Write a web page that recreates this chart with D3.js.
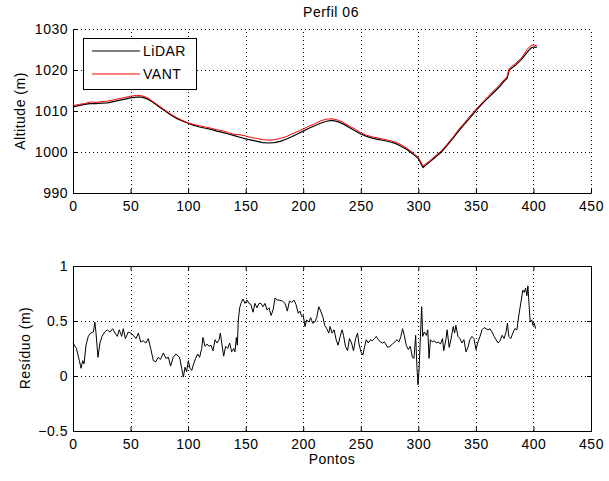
<!DOCTYPE html>
<html>
<head>
<meta charset="utf-8">
<script src="https://cdn.jsdelivr.net/npm/d3@7"></script>
<style>
  body { margin: 0; background: #fff; }
  svg text { font-family: "Liberation Sans", Arial, sans-serif; font-size: 14px; letter-spacing: 0.5px; fill: #000; }
</style>
</head>
<body>
<script>
var w = 609;
var h = 481;

// profile (top plot)
var profX = [0,5,10,15,20,25,30,35,40,45,50,55,60,65,70,75,80,85,90,95,100,105,110,115,120,
             125,130,135,140,145,150,155,160,165,170,175,180,185,190,195,200,205,210,215,220,225,
             230,235,240,245,250,255,260,265,270,275,280,285,290,295,300,304,310,315,320,325,330,
             335,340,345,350,355,360,365,370,375,377,379,385,390,395,398,400,403];
var lidar = [1011.0,1011.3,1011.6,1011.8,1011.8,1011.9,1012.0,1012.3,1012.6,1012.9,1013.2,1013.4,1013.4,
             1012.9,1012.0,1011.0,1010.0,1009.0,1008.2,1007.6,1007.0,1006.5,1006.1,1005.8,1005.5,
             1005.1,1004.8,1004.4,1004.0,1003.6,1003.2,1002.9,1002.6,1002.3,1002.2,1002.3,1002.6,
             1003.1,1003.7,1004.4,1005.1,1005.8,1006.4,1007.0,1007.5,1007.7,1007.4,1006.8,1006.0,
             1005.2,1004.4,1003.8,1003.4,1003.1,1002.8,1002.5,1002.1,1001.4,1000.6,999.6,998.4,
             996.2,997.6,998.8,1000.0,1001.6,1003.3,1005.1,1006.8,1008.4,1010.1,1011.6,1013.0,1014.4,1015.8,1017.4,
             1017.9,1020.0,1021.3,1022.7,1024.5,1025.4,1025.6,1025.5];
var vant = [1011.3,1011.6,1011.8,1012.2,1012.1,1012.3,1012.4,1012.7,1013.0,1013.3,1013.6,1013.8,1013.7,
            1013.2,1012.2,1011.2,1010.2,1009.2,1008.4,1007.7,1007.1,1006.7,1006.4,1006.1,1005.8,
            1005.4,1005.2,1004.7,1004.3,1004.2,1003.9,1003.5,1003.3,1003.0,1002.9,1003.0,1003.3,
            1003.7,1004.4,1005.0,1005.6,1006.3,1006.9,1007.6,1008.0,1008.1,1007.8,1007.2,1006.3,
            1005.6,1004.7,1004.1,1003.7,1003.4,1003.1,1002.8,1002.4,1001.8,1000.9,999.9,998.7,
            996.6,997.9,999.1,1000.3,1001.9,1003.6,1005.5,1007.1,1008.8,1010.4,1011.9,1013.4,1014.8,1016.2,1017.8,
            1018.3,1020.4,1021.7,1023.1,1025.2,1026.0,1026.1,1025.9];

// residual (bottom plot)
var resX = [0,3,5.5,7,8.4,9.6,11.3,13.3,15.3,17.7,19,20,21.7,23.4,25.2,27.5,29.8,32,34.5,36.5,
            38.5,40.2,42.3,43.7,45.5,48,50,52.4,54.7,56.8,58.8,61,63.4,65.4,67.5,69.8,72,74,76,78.5,
            80.8,82.8,84.8,87,89.4,
            92.6,94.4,95.9,97.3,98.7,100.2,101.6,103.1,104.8,106.5,108.3,110,111.8,112.9,114.7,116.4,118.2,119.9,121.6,123.4,
            125.1,126.9,128,129.2,130.9,132.6,134.4,136.1,137.8,139.6,140.7,141.9,142.8,143.6,144.8,145.9,147.7,149.4,151.2,152.9,
            154.6,156.4,158.1,159.8,161.6,163.3,165.1,166.8,168.6,170.3,172.1,173.8,175.5,177.3,179,
            182.1,184.2,186.2,188,190,192,193.7,195.7,197.2,198.6,200.1,201.5,203,204.7,206.5,208.2,210,211.7,213.5,215.2,
            217,218.7,220.4,222.2,223.3,225.1,226.8,228.6,230.3,232.1,233.8,235,236.7,238.5,240.2,242,243.7,245.5,247.2,248.3,
            250.1,251.8,253.6,254.8,256.5,258.3,260,261.8,263.5,265.3,267,268.8,270.5,
            273.3,275.3,277.4,279.7,281.4,283.1,284.9,286.3,287.8,289.5,291.3,293,294.8,296.2,297.7,298.8,299.7,300.6,301.8,302.9,
            303.8,305.2,307,308.2,309.3,310.5,312.2,314,315.7,317.5,319.2,321,322.1,323.9,325,326.8,328.5,330.3,331.5,332.6,
            334.4,336.1,337.9,339.6,341.4,343.1,344.8,346.6,348.3,350.1,351.8,353.6,355.3,357.1,358.8,360.5,362.3,364,365.8,367.5,
            369.3,371,372.8,374.5,376.2,377.4,378.6,380.3,382.1,383.8,385.6,387.3,389.1,390.8,392,393.2,394.3,395.2,396.1,397.2,
            398.4,399.6,400.7,401.9];
var resY = [0.30,0.25,0.14,0.07,0.14,0.11,0.28,0.36,0.39,0.40,0.49,0.39,0.17,0.30,0.36,0.40,0.42,0.40,0.43,0.39,
            0.36,0.42,0.36,0.43,0.34,0.40,0.39,0.37,0.34,0.39,0.31,0.32,0.30,0.34,0.25,0.14,0.13,0.17,0.15,0.21,
            0.16,0.17,0.09,0.17,0.20,
            0.17,0.07,-0.01,0.08,0.04,0.14,0.07,0.05,0.11,0.16,0.20,0.17,0.25,0.35,0.27,0.29,0.27,0.28,0.23,0.33,
            0.30,0.33,0.39,0.30,0.18,0.27,0.25,0.30,0.22,0.25,0.22,0.35,0.28,0.51,0.62,0.66,0.70,0.66,0.69,0.66,
            0.65,0.58,0.66,0.62,0.66,0.66,0.63,0.66,0.60,0.62,0.55,0.60,0.71,0.69,0.69,
            0.68,0.66,0.59,0.68,0.67,0.69,0.65,0.57,0.59,0.54,0.55,0.45,0.51,0.49,0.53,0.48,0.49,0.53,0.63,0.59,
            0.54,0.46,0.43,0.39,0.45,0.39,0.42,0.33,0.28,0.36,0.42,0.37,0.27,0.23,0.34,0.30,0.23,0.34,0.39,0.30,
            0.22,0.19,0.28,0.33,0.30,0.33,0.32,0.34,0.36,0.33,0.31,0.30,0.31,
            0.26,0.27,0.29,0.31,0.33,0.31,0.36,0.43,0.37,0.28,0.24,0.27,0.17,0.16,0.37,0.08,-0.08,0.05,0.36,0.63,
            0.36,0.40,0.37,0.42,0.16,0.33,0.31,0.32,0.30,0.31,0.29,0.34,0.23,0.33,0.42,0.26,0.34,0.45,0.39,0.46,
            0.36,0.34,0.30,0.33,0.22,0.26,0.33,0.36,0.34,0.24,0.31,0.36,0.42,0.44,0.43,0.42,0.43,0.40,0.36,0.33,
            0.30,0.32,0.37,0.34,0.40,0.48,0.36,0.34,0.39,0.43,0.42,0.55,0.67,0.78,0.76,0.80,0.73,0.82,0.66,0.49,
            0.51,0.46,0.48,0.43];

var xTicks = [0,50,100,150,200,250,300,350,400,450];
var topTicks = [990,1000,1010,1020,1030];
var botTicks = [-0.5,0,0.5,1];

var svg = d3.select("body").append("svg")
            .attr("width", w)
            .attr("height", h);

var left = 73, right = 591;

var x = d3.scaleLinear().domain([0, 450]).range([left, right]);
var y1 = d3.scaleLinear().domain([990, 1030]).range([193, 29]);
var y2 = d3.scaleLinear().domain([-0.5, 1]).range([431, 266]);

function grid(yScale, yTicks) {
  var g = svg.append("g")
             .attr("stroke", "#000")
             .attr("stroke-width", 1)
             .attr("stroke-dasharray", "1,3");
  g.selectAll(".gx").data(xTicks.slice(1)).enter().append("line")
   .attr("x1", function(d) { return Math.round(x(d)) + 0.5; })
   .attr("x2", function(d) { return Math.round(x(d)) + 0.5; })
   .attr("y1", yScale.range()[0])
   .attr("y2", yScale.range()[1]);
  g.selectAll(".gy").data(yTicks.slice(1)).enter().append("line")
   .attr("x1", left)
   .attr("x2", right)
   .attr("y1", function(d) { return Math.round(yScale(d)) + 0.5; })
   .attr("y2", function(d) { return Math.round(yScale(d)) + 0.5; });
}

function axes(yScale, yTicks, fmt, boxed) {
  var yb = yScale.range()[0], yt = yScale.range()[1];
  var ax = svg.append("g").attr("transform", "translate(0," + yb + ")")
              .call(d3.axisBottom(x).tickValues(xTicks).tickSize(-4).tickPadding(8));
  var ay = svg.append("g").attr("transform", "translate(" + left + ",0)")
              .call(d3.axisLeft(yScale).tickValues(yTicks).tickFormat(fmt).tickSize(-4).tickPadding(5));
  [ax, ay].forEach(function(a) {
    a.selectAll("text").style("font-family", "Liberation Sans, Arial, sans-serif")
     .style("font-size", "14px").style("letter-spacing", "0.5px");
    a.selectAll("line, path").attr("stroke", "#000");
  });
  if (boxed) {
    svg.append("g").attr("transform", "translate(0," + yt + ")")
       .call(d3.axisTop(x).tickValues(xTicks).tickSize(-4).tickFormat(""))
       .selectAll("line, path").attr("stroke", "#000");
    svg.append("g").attr("transform", "translate(" + right + ",0)")
       .call(d3.axisRight(yScale).tickValues(yTicks).tickSize(-4).tickFormat(""))
       .selectAll("line, path").attr("stroke", "#000");
  }
}

// Top plot
grid(y1, topTicks);
var line1 = d3.line().x(function(d, i) { return x(profX[i]); });
svg.append("path")
   .attr("d", line1.y(function(d) { return y1(d); })(lidar))
   .attr("fill", "none").attr("stroke", "#000").attr("stroke-width", 1.2);
svg.append("path")
   .attr("d", line1.y(function(d) { return y1(d); })(vant))
   .attr("fill", "none").attr("stroke", "#ff0000").attr("stroke-width", 1);
axes(y1, topTicks, d3.format("d"), false);

svg.append("text").attr("x", 331).attr("y", 17).attr("text-anchor", "middle").text("Perfil 06");
svg.append("text")
   .attr("transform", "translate(25,111) rotate(-90)")
   .attr("text-anchor", "middle").text("Altitude (m)");

// Legend
var leg = svg.append("g");
leg.append("rect").attr("x", 83.5).attr("y", 38.5).attr("width", 113).attr("height", 51)
   .attr("fill", "#fff").attr("stroke", "#000");
var legItems = ["LiDAR", "VANT"];
var legColors = ["#000", "#ff0000"];
legItems.forEach(function(name, i) {
  var ly = 51 + i * 23;
  leg.append("line").attr("x1", 92).attr("x2", 140).attr("y1", ly).attr("y2", ly)
     .attr("stroke", legColors[i]).attr("stroke-width", 1);
  leg.append("text").attr("x", 143).attr("y", ly + 5).text(name);
});

// Bottom plot
grid(y2, botTicks);
svg.append("path")
   .attr("d", d3.line().x(function(d, i) { return x(resX[i]); }).y(function(d) { return y2(d); })(resY))
   .attr("fill", "none").attr("stroke", "#000").attr("stroke-width", 1);
axes(y2, botTicks, function(d) { return d3.format("")(d); }, true);

svg.append("text")
   .attr("transform", "translate(30,348) rotate(-90)")
   .attr("text-anchor", "middle").text("Resíduo (m)");
svg.append("text").attr("x", 332).attr("y", 464).attr("text-anchor", "middle").text("Pontos");
</script>
</body>
</html>
